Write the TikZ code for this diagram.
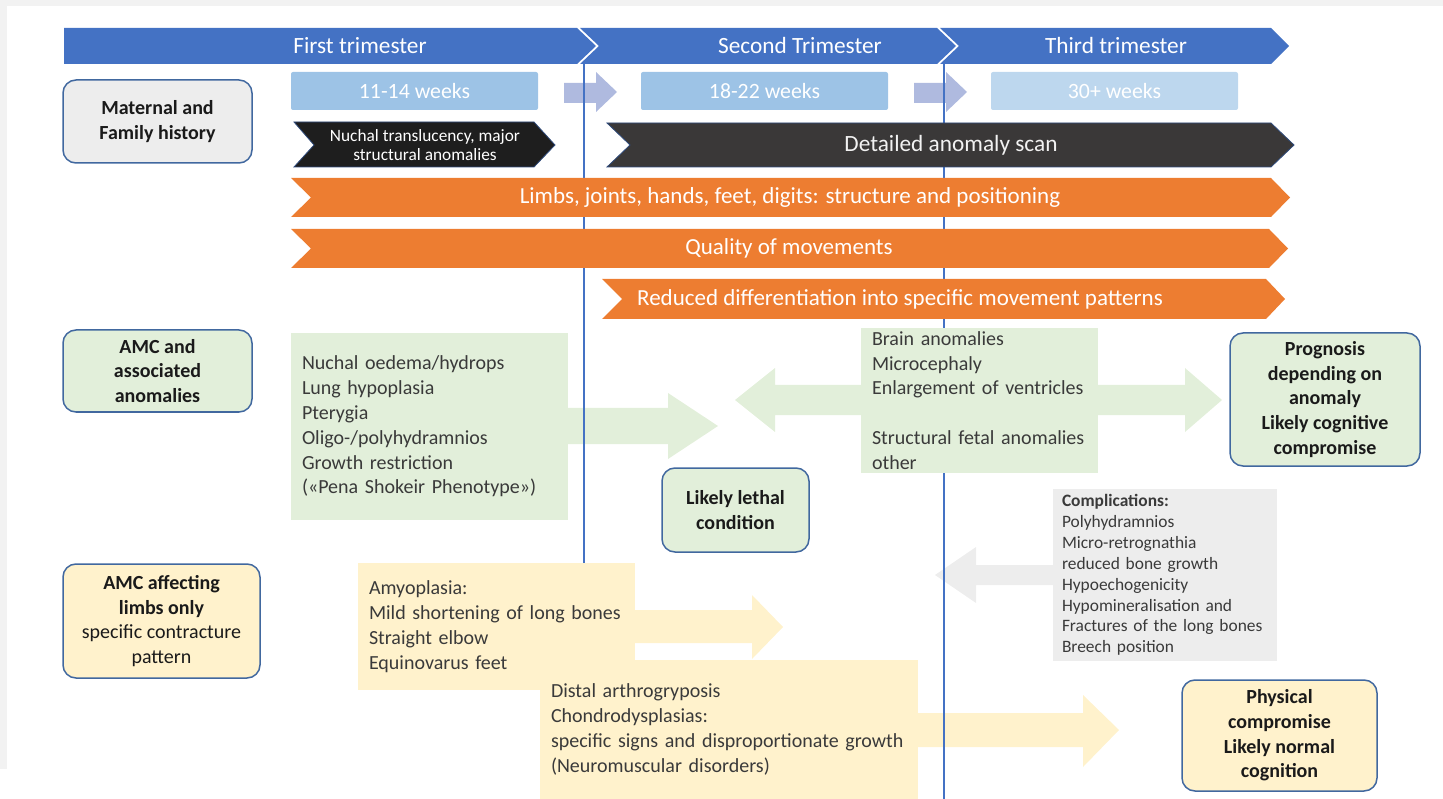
\documentclass[tikz,border=0pt]{standalone}
\usepackage{fontspec}
\setmainfont{Carlito}
\definecolor{PageGray}{HTML}{F2F2F2}
\definecolor{BarBlue}{HTML}{4472C4}
\definecolor{WeekBlue}{HTML}{9DC3E6}
\definecolor{WeekPale}{HTML}{BDD7EE}
\definecolor{StepLilac}{HTML}{AFBADF}
\definecolor{ScanBlack}{HTML}{1E1E1E}
\definecolor{ScanDark}{HTML}{3A3838}
\definecolor{ScanEdge}{HTML}{2F4B7C}
\definecolor{BarOrange}{HTML}{ED7D31}
\definecolor{SoftGreen}{HTML}{E2EFDA}
\definecolor{SoftYellow}{HTML}{FFF2CC}
\definecolor{SoftGray}{HTML}{EDEDED}
\definecolor{BoxLine}{HTML}{41689F}
\definecolor{TextDark}{HTML}{1A1A1A}
\definecolor{TextGray}{HTML}{3A3A3A}

\tikzset{
  bartext/.style={text=white, inner sep=0pt, font=\fontsize{23.3}{27}\selectfont},
  movetext/.style={bartext, font=\fontsize{23}{27}\selectfont},
  weekbox/.style={minimum width=247pt, minimum height=38pt, inner sep=0pt, rounded corners=2pt,
                  text=white, font=\fontsize{21.8}{25}\selectfont},
  roundbox/.style={draw=BoxLine, line width=1.5pt, rounded corners=13pt, align=center, inner sep=0pt,
                   text=TextDark, font=\bfseries\fontsize{20}{24.6}\selectfont},
  listbox/.style={align=left, inner xsep=11pt, inner ysep=0pt, text=TextGray,
                  font=\fontsize{20}{24.8}\selectfont},
  weekline/.style={draw=BarBlue, line width=1.2pt},
  scanedge/.style={draw=ScanEdge, line width=0.8pt}
}

\begin{document}
\begin{tikzpicture}[x=1pt, y=-1pt]
\useasboundingbox (0,0) rectangle (1443,799);
\fill[PageGray] (0,0) rectangle (1443,6);
\fill[PageGray] (0,0) rectangle (7,769);

% block arrows
\fill[SoftGreen] (568,408) -- (668,408) -- (668,393) -- (718,426) -- (668,459) -- (668,444) -- (568,444) -- cycle;
\fill[SoftGreen] (735,400) -- (775,368) -- (775,385) -- (1185,385) -- (1185,368) -- (1222,400)
                 -- (1185,432) -- (1185,415) -- (775,415) -- (775,432) -- cycle;
\fill[SoftGray] (1055,565) -- (976,565) -- (976,547) -- (935,575) -- (976,603) -- (976,585) -- (1055,585) -- cycle;
\fill[SoftYellow] (635,610) -- (752,610) -- (752,595) -- (783,627) -- (752,659) -- (752,643) -- (635,643) -- cycle;
\fill[SoftYellow] (918,713) -- (1083,713) -- (1083,695) -- (1119,730) -- (1083,767) -- (1083,747) -- (918,747) -- cycle;
\foreach \dx in {0,350}
  \fill[StepLilac, xshift=\dx] (564,83) -- (596,83) -- (596,72) -- (617,92) -- (596,112) -- (596,103) -- (564,103) -- cycle;

% trimester borders
\coordinate (second top) at (584,64);
\coordinate (second bottom) at (584,799);
\coordinate (third top) at (944,64);
\coordinate (third bottom) at (944,799);
\draw[weekline] (second top) -- (second bottom);
\draw[weekline] (third top) -- (third bottom);

% findings
\node[listbox, fill=SoftGreen, minimum width=277pt, minimum height=187pt, text width=255pt] (lethal signs) at (429.5,426.5)
  {Nuchal oedema/hydrops\\Lung hypoplasia\\Pterygia\\Oligo-/polyhydramnios\\Growth restriction\\(«Pena Shokeir Phenotype»)};
\node[listbox, fill=SoftGreen, minimum width=235pt, minimum height=145pt, text width=215pt] (brain) at (979.5,400.5)
  {Brain anomalies\\Microcephaly\\Enlargement of ventricles\\[24.8pt]Structural fetal anomalies\\other};
\node[listbox, fill=SoftGray, minimum width=224pt, minimum height=172pt, text width=206pt, inner xsep=9pt,
      font=\fontsize{17.4}{20.9}\selectfont] (complications) at (1165,575)
  {\textbf{Complications:}\\Polyhydramnios\\Micro-retrognathia\\reduced bone growth\\Hypoechogenicity\\Hypomineralisation and\\Fractures of the long bones\\Breech position};
\node[listbox, fill=SoftYellow, minimum width=277pt, minimum height=127pt, text width=255pt] (amyoplasia) at (496.5,626.5)
  {Amyoplasia:\\Mild shortening of long bones\\Straight elbow\\Equinovarus feet};
\node[listbox, fill=SoftYellow, minimum width=378pt, minimum height=139pt, text width=356pt] (distal) at (729,729.5)
  {Distal arthrogryposis\\Chondrodysplasias:\\specific signs and disproportionate growth\\(Neuromuscular disorders)};

% categories and outcomes
\node[roundbox, fill=SoftGray, minimum width=189pt, minimum height=83pt] (history) at (157.5,121.5) {Maternal and\\Family history};
\node[roundbox, fill=SoftGreen, minimum width=189pt, minimum height=82pt] (associated) at (157.5,371) {AMC and\\associated\\anomalies};
\node[roundbox, fill=SoftYellow, minimum width=197pt, minimum height=114pt] (limbs only) at (161.5,621)
  {AMC affecting\\limbs only\\\mdseries specific contracture\\\mdseries pattern};
\node[roundbox, fill=SoftGreen, minimum width=147pt, minimum height=84pt] (lethal) at (735.5,510) {Likely lethal\\condition};
\node[roundbox, fill=SoftGreen, minimum width=190pt, minimum height=133pt] (prognosis) at (1325,399.5)
  {Prognosis\\depending on\\anomaly\\Likely cognitive\\compromise};
\node[roundbox, fill=SoftYellow, minimum width=195pt, minimum height=111pt] (physical) at (1279.5,735.5)
  {Physical\\compromise\\Likely normal\\cognition};

% trimester bar
\fill[BarBlue] (64,28) -- (577,28) -- (596,46) -- (577,64) -- (64,64) -- cycle;
\fill[BarBlue] (580,28) -- (937,28) -- (956,46) -- (937,64) -- (580,64) -- (599,46) -- cycle;
\fill[BarBlue] (940,28) -- (1271,28) -- (1289,46) -- (1271,64) -- (940,64) -- (959,46) -- cycle;
\node[bartext] (first) at (360,46) {First trimester};
\node[bartext] (second) at (800,46) {Second Trimester};
\node[bartext] (third) at (1116,46) {Third trimester};

% scan windows
\node[weekbox, fill=WeekBlue] (week11) at (414.5,91) {11-14 weeks};
\node[weekbox, fill=WeekBlue] (week18) at (764.5,91) {18-22 weeks};
\node[weekbox, fill=WeekPale] (week30) at (1114.5,91) {30+ weeks};

\filldraw[ScanBlack, scanedge] (294,122) -- (534,122) -- (555,145) -- (534,167) -- (294,167) -- (314,145) -- cycle;
\node[bartext, align=center, font=\fontsize{17.3}{19.8}\selectfont] (nuchal) at (425,145)
  {Nuchal translucency, major\\structural anomalies};
\filldraw[fill=ScanDark, scanedge] (607,123) -- (1271,123) -- (1294,145) -- (1271,167) -- (607,167) -- (630,145) -- cycle;
\node[bartext, text=PageGray] (detailed) at (951,145) {Detailed anomaly scan};

% movement assessment
\fill[BarOrange] (291,178) -- (1271,178) -- (1290,197.5) -- (1271,217) -- (291,217) -- (311,197.5) -- cycle;
\fill[BarOrange] (291,229) -- (1269,229) -- (1288,248.5) -- (1269,268) -- (291,268) -- (311,248.5) -- cycle;
\fill[BarOrange] (602,279) -- (1266,279) -- (1285,299) -- (1266,319) -- (602,319) -- (622,299) -- cycle;
\node[movetext] (structure) at (790,197.5)
  {Limbs, joints, hands, feet, digits: structure and positioning};
\node[movetext] (quality) at (789,248.5) {Quality of movements};
\node[movetext] (patterns) at (900,299)
  {Reduced differentiation into specific movement patterns};
\end{tikzpicture}
\end{document}
